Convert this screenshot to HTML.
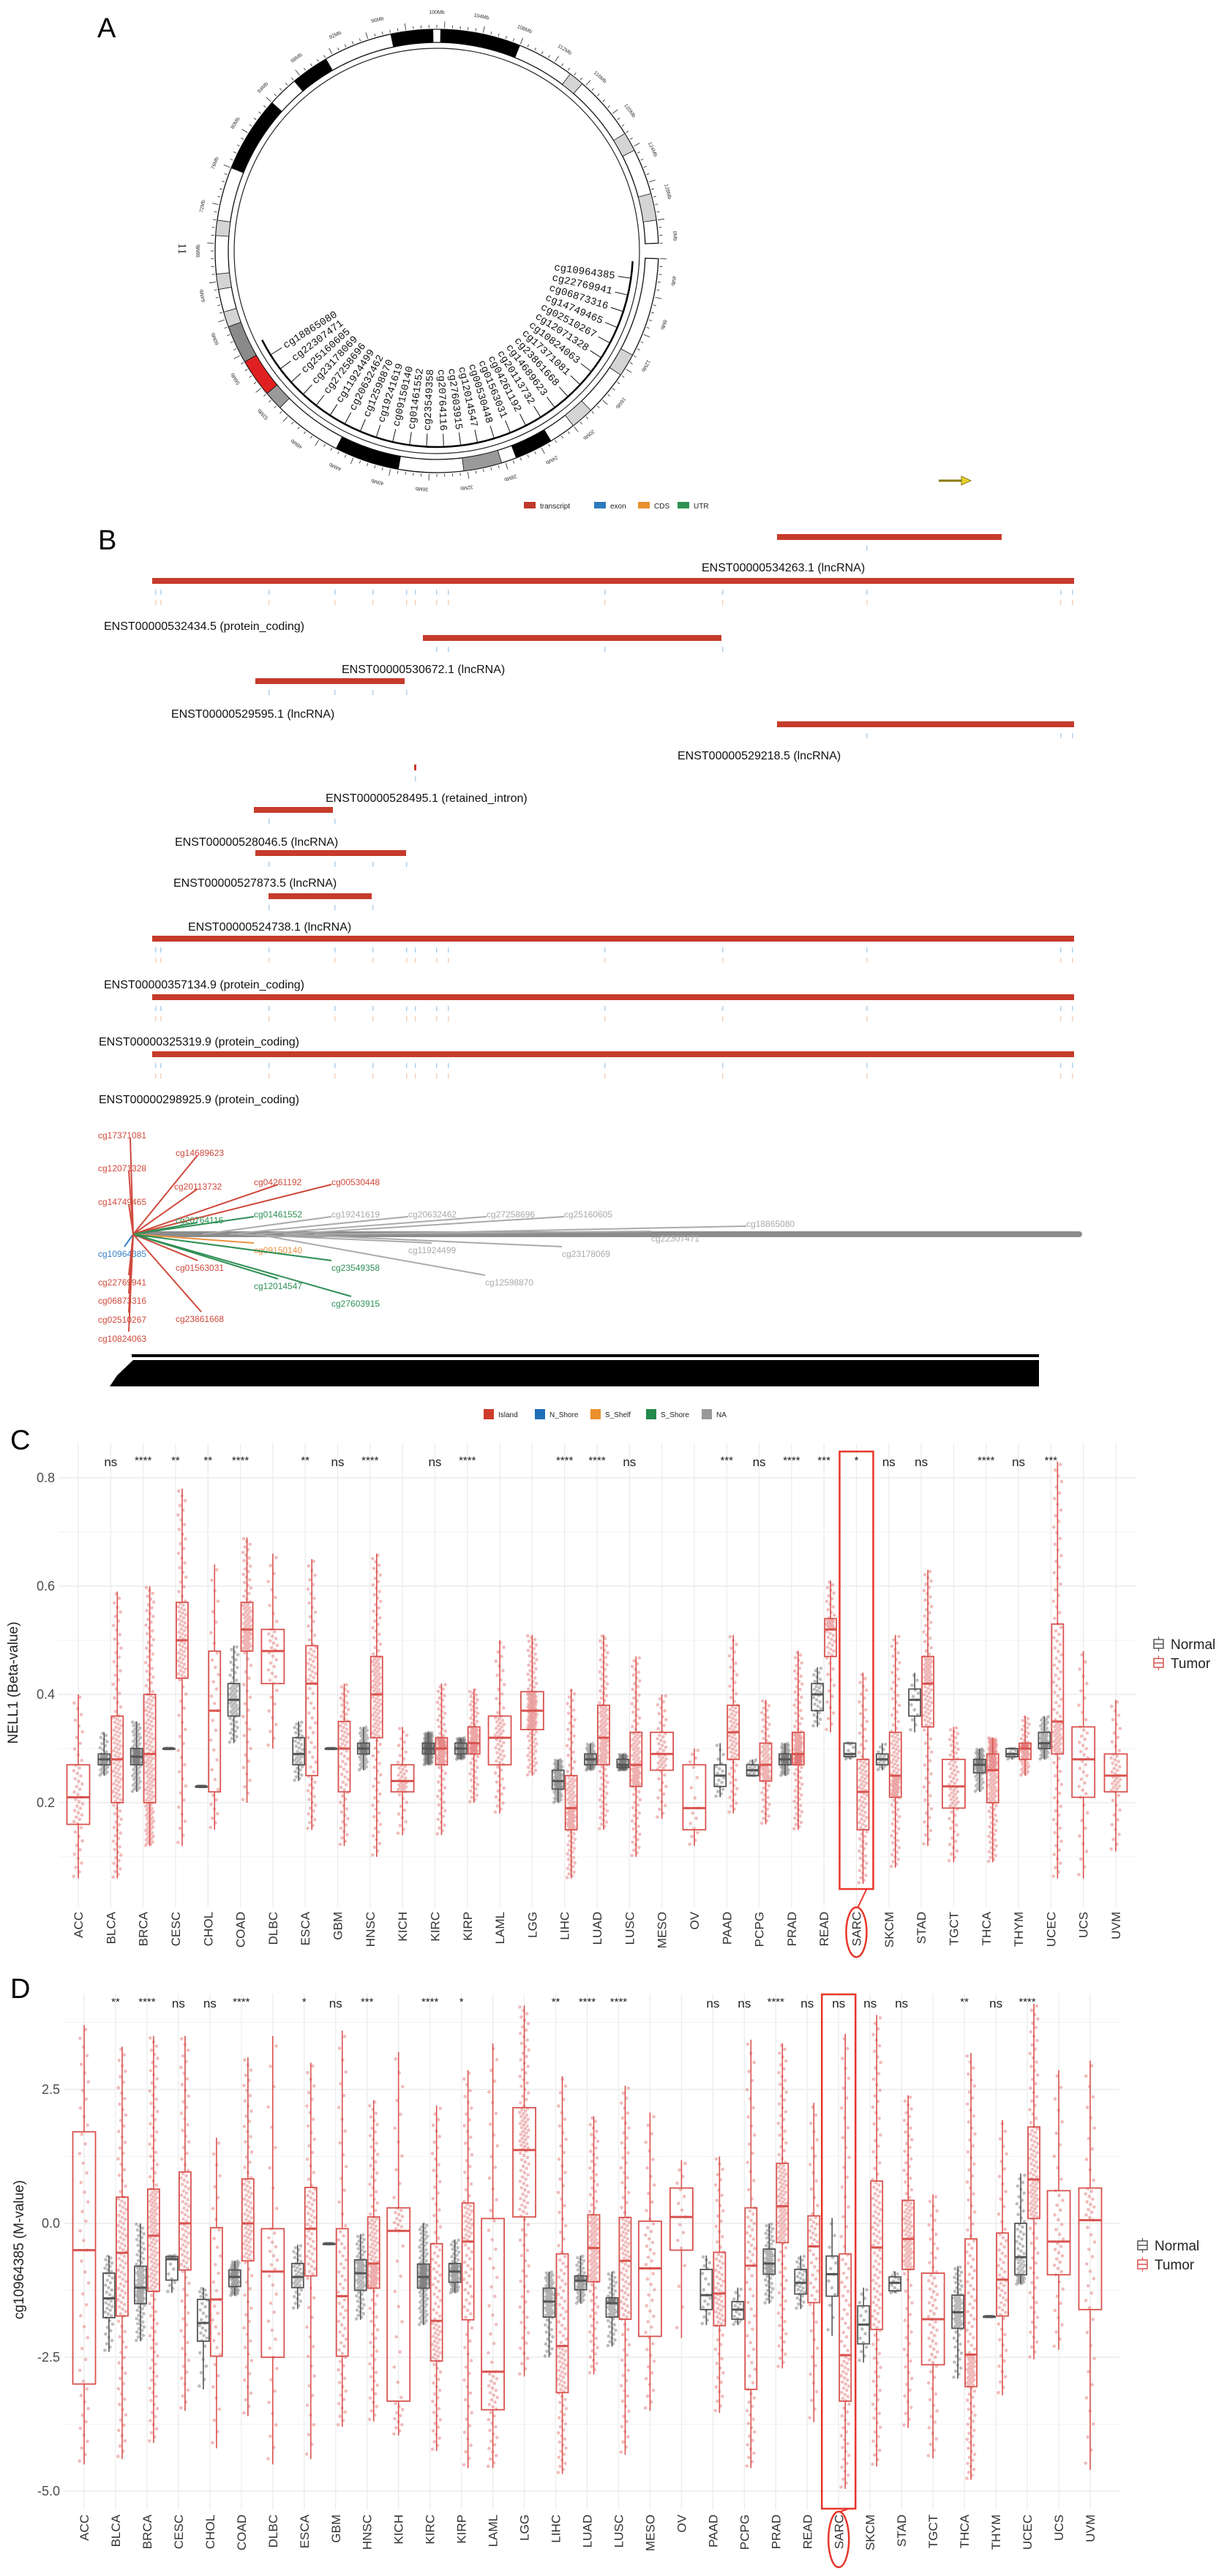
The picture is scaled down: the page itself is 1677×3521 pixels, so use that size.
<!DOCTYPE html>
<html>
<head>
<meta charset="utf-8">
<style>
html,body{margin:0;padding:0;background:#fff;}
svg{display:block;font-family:"Liberation Sans",Arial,sans-serif;}
</style>
</head>
<body>
<svg id="fig" width="1677" height="3521" viewBox="0 0 1677 3521" xmlns="http://www.w3.org/2000/svg">
<rect x="0" y="0" width="1677" height="3521" fill="#fff"/>
<text x="133" y="51" font-size="38">A</text>
<text x="134" y="751" font-size="38">B</text>
<text x="14" y="1981" font-size="38">C</text>
<text x="14" y="2731" font-size="38">D</text>
</svg>
<script>
const NS='http://www.w3.org/2000/svg';
const svg=document.getElementById('fig');
function mk(tag,attrs,parent){const e=document.createElementNS(NS,tag);for(const k in attrs)e.setAttribute(k,attrs[k]);(parent||svg).appendChild(e);return e;}

/* ================= PANEL A : circular ideogram ================= */
const ringSegStart=[-68,-40,-12,1,149,190,37,58,75,118,136,-100,-86,-110,163,225,230,240];
const ringSegEnd  =[-48,-30,-1,22,159,207,41,63,82,124,142,-96,-82,-106,173,230,240,250];
const ringSegColor=['#000','#000','#000','#000','#000','#000','#d4d4d4','#d4d4d4','#d4d4d4','#d4d4d4','#d4d4d4','#d4d4d4','#d4d4d4','#d4d4d4','#9a9a9a','#9a9a9a','#e02020','#8a8a8a'];
const probeNames=['cg10964385','cg22769941','cg06873316','cg14749465','cg02510267','cg12071328','cg10824063','cg17371081','cg23861668','cg14689623','cg20113732','cg04261192','cg01563031','cg00530448','cg12014547','cg27603915','cg20764116','cg23549358','cg01461552','cg09150140','cg19241619','cg12598870','cg20632462','cg11924499','cg27258696','cg23178069','cg25160605','cg22307471','cg18865080'];
const mbLabels=['100Mb','104Mb','108Mb','112Mb','116Mb','120Mb','124Mb','128Mb','0Mb','4Mb','8Mb','12Mb','16Mb','20Mb','24Mb','28Mb','32Mb','36Mb','40Mb','44Mb','48Mb','52Mb','56Mb','60Mb','64Mb','68Mb','72Mb','76Mb','80Mb','84Mb','88Mb','92Mb','96Mb'];
(function(){
  const cx=597,cy=343;
  const g=mk('g',{});
  
  
  const P=(r,t)=>{const a=t*Math.PI/180;return [cx+r*Math.sin(a),cy-r*Math.cos(a)];};
  function sector(r1,r2,a1,a2){const p1=P(r2,a1),p2=P(r2,a2),p3=P(r1,a2),p4=P(r1,a1);const lg=(a2-a1)>180?1:0;
    return `M${p1[0]},${p1[1]} A${r2},${r2} 0 ${lg} 1 ${p2[0]},${p2[1]} L${p3[0]},${p3[1]} A${r1},${r1} 0 ${lg} 0 ${p4[0]},${p4[1]} Z`;}
  const base=mk('path',{d:sector(285,303,92,448),fill:'#fff',stroke:'#111','stroke-width':1.3},g);
  
  
  for(let i=0;i<ringSegStart.length;i++){
    const s=mk('path',{d:sector(285,303,ringSegStart[i],ringSegEnd[i]),fill:ringSegColor[i],stroke:'#111','stroke-width':0.8},g);
    
    
  }
  const ic=mk('circle',{cx:cx,cy:cy,r:277,fill:'none',stroke:'#222','stroke-width':1.2},g);
  
  
  for(let t=92;t<=448;t+=2){
    const maj=((t-92)%10===0);
    const a=P(305,t),b=P(maj?314:309,t);
    const l=mk('line',{x1:a[0],y1:a[1],x2:b[0],y2:b[1],stroke:'#222','stroke-width':0.8},g);
    
    
  }
  mbLabels.forEach((lab,i)=>{
    const t=(i*10.8+0)%360; const q=P(324,t);
    const tx=mk('text',{x:q[0],y:q[1],'font-size':7,fill:'#333','text-anchor':'middle',transform:`rotate(${t} ${q[0]} ${q[1]})`},g);
    
    
    tx.textContent=lab;
  });
  const chr=mk('text',{x:244,y:340,'font-size':16,fill:'#222','text-anchor':'middle',transform:'rotate(90 244 340)','font-family':'Liberation Serif,serif'},g);
  
  
  chr.textContent='11';
  const a1=P(268,93),a2=P(268,243);
  const arc=mk('path',{d:`M${a1[0]},${a1[1]} A268,268 0 0 1 ${a2[0]},${a2[1]}`,fill:'none',stroke:'#000','stroke-width':2.5},g);
  
  
  probeNames.forEach((nm,i)=>{
    const t=98+i*(140/(probeNames.length-1));
    const q=P(250,t),r=P(267,t);
    const ln=mk('polyline',{points:`${q[0]},${q[1]} ${r[0]},${r[1]}`,fill:'none',stroke:'#111','stroke-width':1},g);
    
    
    let rot,anchor;
    if(t<=180){rot=t-90;anchor='end';}else{rot=t-270;anchor='start';}
    const pp=P(246,t);
    const tx=mk('text',{x:pp[0],y:pp[1],'font-size':14,'font-family':'Liberation Mono,monospace',fill:'#111','text-anchor':anchor,'dominant-baseline':'middle',transform:`rotate(${rot} ${pp[0]} ${pp[1]})`},g);
    
    
    tx.textContent=nm;
  });
  const legA=[['transcript','#c0392b'],['exon','#2b7bbf'],['CDS','#e8902e'],['UTR','#2e9152']];
  let lx=716;
  legA.forEach(([n,c])=>{
    const r=mk('rect',{x:lx,y:686,width:16,height:9,fill:c});
    
    
    const t=mk('text',{x:lx+22,y:695,'font-size':10,fill:'#222'});
    
    
    t.textContent=n; lx+=22+n.length*6+14;
  });
  const ar=mk('g',{});
  
  
  mk('line',{x1:1283,y1:657,x2:1320,y2:657,stroke:'#8a7a10','stroke-width':3},ar);
  mk('path',{d:'M1314,651 L1327,657 L1314,663 Z',fill:'#e6d22a',stroke:'#8a7a10','stroke-width':1},ar);
})();

/* ================= PANEL B : transcripts ================= */
const txNames=['ENST00000534263.1 (lncRNA)','ENST00000532434.5 (protein_coding)','ENST00000530672.1 (lncRNA)','ENST00000529595.1 (lncRNA)','ENST00000529218.5 (lncRNA)','ENST00000528495.1 (retained_intron)','ENST00000528046.5 (lncRNA)','ENST00000527873.5 (lncRNA)','ENST00000524738.1 (lncRNA)','ENST00000357134.9 (protein_coding)','ENST00000325319.9 (protein_coding)','ENST00000298925.9 (protein_coding)'];
const txStart=[1062,208,578,349,1062,566,347,349,367,208,208,208];
const txEnd  =[1369,1468,986,553,1468,569,455,555,508,1468,1468,1468];
const txBarY =[734,794,872,931,990,1049,1107,1166,1225,1283,1363,1441];
const txLabX =[959,142,467,234,926,445,239,237,257,142,135,135];
const txLabY =[775,855,914,975,1032,1090,1150,1206,1266,1345,1423,1502];
const exonX=[212,219,367,457,509,555,567,596,612,826,987,1184,1449,1465];
(function(){
  const g=mk('g',{});
  
  
  txNames.forEach((nm,i)=>{
    const b=mk('rect',{x:txStart[i],y:txBarY[i]-4,width:Math.max(2,txEnd[i]-txStart[i]),height:8,fill:'#c63b2b'},g);
    
    
    exonX.forEach(x=>{
      if(x>=txStart[i]-2&&x<=txEnd[i]+2){
        const e=mk('rect',{x:x,y:txBarY[i]+12,width:1.5,height:7,fill:'#7fb0dc',opacity:0.6},g);
        
        
        if(txEnd[i]-txStart[i]>600){
          const c=mk('rect',{x:x,y:txBarY[i]+26,width:1.5,height:7,fill:'#f0b48a',opacity:0.6},g);
          
          
        }
      }
    });
    const t=mk('text',{x:txLabX[i],y:txLabY[i]+6,'font-size':16,fill:'#111'},g);
    
    
    t.textContent=nm;
  });
})();

/* ================= PANEL B : lollipop ================= */
const lolNames=['cg17371081','cg14689623','cg12071328','cg20113732','cg04261192','cg00530448','cg14749465','cg20764116','cg01461552','cg19241619','cg20632462','cg27258696','cg25160605','cg18865080','cg22307471','cg10964385','cg09150140','cg11924499','cg23178069','cg01563031','cg23549358','cg22769941','cg12014547','cg12598870','cg27603915','cg06873316','cg23861668','cg02510267','cg10824063'];
const lolX=[134,240,134,238,347,453,134,240,347,453,558,665,771,1020,890,134,347,558,768,240,453,134,347,663,453,134,240,134,134];
const lolY=[1552,1576,1597,1622,1616,1616,1643,1668,1660,1660,1660,1660,1660,1673,1693,1714,1709,1709,1714,1733,1733,1753,1758,1753,1782,1778,1803,1804,1830];
const lolAnchor=[178,270,176,270,380,453,176,270,347,453,558,665,771,1020,890,170,347,590,768,270,453,176,380,663,480,176,275,176,176];
const lolType=['Island','Island','Island','Island','Island','Island','Island','S_Shore','S_Shore','NA','NA','NA','NA','NA','NA','N_Shore','S_Shelf','NA','NA','Island','S_Shore','Island','S_Shore','NA','S_Shore','Island','Island','Island','Island'];
const typeColor={Island:'#cf4a3c',N_Shore:'#3a80c4',S_Shelf:'#ea9240',S_Shore:'#2f8f55',NA:'#aaaaaa'};
(function(){
  const hx=182,hy=1687;
  const g=mk('g',{});
  
  
  const bar=mk('rect',{x:hx,y:hy-4,width:1479-hx,height:8,rx:4,fill:'#8c8c8c'},g);
  
  
  lolNames.forEach((nm,i)=>{
    const c=typeColor[lolType[i]];
    const above=lolY[i]<hy;
    const ey=above?lolY[i]+3:lolY[i]-10;
    const ln=mk('line',{x1:hx+(lolType[i]==='NA'?(lolAnchor[i]-hx)*0.35:0),y1:hy,x2:lolAnchor[i],y2:ey,stroke:c,'stroke-width':2},g);
    
    
    const t=mk('text',{x:lolX[i],y:lolY[i]+4,'font-size':12,fill:c},g);
    
    
    t.textContent=nm;
  });
  const s1=mk('rect',{x:180,y:1851,width:1240,height:4,fill:'#000'},g);
  
  
  const s2=mk('path',{d:'M182,1859 L1420,1859 L1420,1895 L150,1895 L160,1880 Z',fill:'#000'},g);
  
  
  const leg=[['Island','#cf3b2b'],['N_Shore','#1f6fb8'],['S_Shelf','#ea8f2c'],['S_Shore','#238a4c'],['NA','#999']];
  let lx=661;
  leg.forEach(([n,c])=>{
    const r=mk('rect',{x:lx,y:1926,width:14,height:14,fill:c});
    
    
    const t=mk('text',{x:lx+20,y:1937,'font-size':10,fill:'#222'});
    
    
    t.textContent=n; lx+=20+n.length*6+14;
  });
})();

/* ================= PANELS C & D : boxplots ================= */
const cancers=['ACC','BLCA','BRCA','CESC','CHOL','COAD','DLBC','ESCA','GBM','HNSC','KICH','KIRC','KIRP','LAML','LGG','LIHC','LUAD','LUSC','MESO','OV','PAAD','PCPG','PRAD','READ','SARC','SKCM','STAD','TGCT','THCA','THYM','UCEC','UCS','UVM'];
const tumorN=[80,400,780,300,36,300,48,185,150,520,66,320,275,140,510,377,460,370,87,10,180,180,500,100,260,470,395,150,510,120,430,57,80];
const normalN=[0,19,90,3,9,38,0,16,2,50,0,160,45,0,0,50,32,42,0,0,4,3,50,10,2,3,2,0,50,2,35,0,0];
const cSig=['','ns','****','**','**','****','','**','ns','****','','ns','****','','','****','****','ns','','','***','ns','****','***','*','ns','ns','','****','ns','***','',''];
const cTMed=[.21,.28,.29,.50,.37,.52,.48,.42,.30,.40,.24,.30,.31,.32,.37,.19,.32,.27,.29,.19,.33,.27,.29,.52,.22,.25,.42,.23,.26,.30,.35,.28,.25];
const cTQ1 =[.16,.20,.20,.43,.22,.48,.42,.25,.22,.32,.22,.27,.29,.27,.335,.15,.27,.23,.26,.15,.28,.24,.27,.47,.15,.21,.34,.19,.20,.28,.29,.21,.22];
const cTQ3 =[.27,.36,.40,.57,.48,.57,.52,.49,.35,.47,.27,.32,.34,.36,.405,.25,.38,.33,.33,.27,.38,.31,.33,.54,.28,.33,.47,.28,.29,.31,.53,.34,.29];
const cTLo =[.06,.06,.12,.12,.15,.20,.30,.15,.12,.10,.14,.14,.20,.18,.25,.06,.15,.10,.17,.12,.18,.16,.15,.33,.05,.08,.12,.09,.09,.25,.06,.06,.11];
const cTHi =[.40,.59,.60,.78,.64,.69,.66,.65,.42,.66,.34,.42,.41,.50,.51,.41,.51,.47,.40,.30,.51,.39,.48,.61,.44,.51,.63,.34,.32,.36,.83,.48,.39];
const cNMed=[null,.28,.285,.30,.23,.39,null,.29,.30,.30,null,.30,.30,null,null,.24,.28,.27,null,null,.25,.26,.28,.40,.29,.28,.39,null,.27,.29,.31,null,null];
const cNQ1 =[null,.27,.27,.30,.23,.36,null,.27,.30,.29,null,.29,.29,null,null,.225,.27,.265,null,null,.23,.25,.27,.37,.285,.27,.36,null,.255,.285,.30,null,null];
const cNQ3 =[null,.29,.30,.30,.23,.42,null,.32,.30,.31,null,.31,.31,null,null,.26,.29,.28,null,null,.27,.27,.29,.42,.31,.29,.41,null,.28,.30,.33,null,null];
const cNLo =[null,.25,.22,.30,.23,.31,null,.24,.30,.26,null,.27,.28,null,null,.20,.26,.26,null,null,.21,.25,.25,.34,.28,.26,.33,null,.22,.28,.28,null,null];
const cNHi =[null,.33,.35,.30,.23,.49,null,.35,.30,.34,null,.33,.32,null,null,.28,.31,.29,null,null,.31,.28,.31,.45,.31,.31,.44,null,.30,.30,.36,null,null];
const cTicks=[0.2,0.4,0.6,0.8];
const cTickLabels=['0.2','0.4','0.6','0.8'];
const cMinor=[0.1,0.3,0.5,0.7];
const dSig=['','**','****','ns','ns','****','','*','ns','***','','****','*','','','**','****','****','','','ns','ns','****','ns','ns','ns','ns','','**','ns','****','',''];
const dTMed=[-0.5,-0.55,-0.23,0.0,-1.42,0.0,-0.9,-0.1,-1.36,-0.75,-0.14,-1.82,-0.34,-2.77,1.37,-2.29,-0.46,-0.7,-0.84,0.12,-1.31,-0.79,0.32,-0.43,-2.46,-0.45,-0.29,-1.79,-2.45,-1.05,0.82,-0.34,0.06];
const dTQ1 =[-3.0,-1.73,-1.27,-0.87,-2.48,-0.7,-2.5,-0.98,-2.48,-1.21,-3.32,-2.57,-1.8,-3.48,0.12,-3.16,-1.09,-1.79,-2.11,-0.5,-1.91,-3.1,-0.36,-1.48,-3.32,-1.98,-0.86,-2.64,-3.05,-1.73,0.09,-0.96,-1.61];
const dTQ3 =[1.71,0.49,0.64,0.96,-0.08,0.83,-0.1,0.67,-0.1,0.12,0.29,-0.38,0.38,0.09,2.16,-0.57,0.16,0.11,0.04,0.66,-0.54,0.29,1.12,0.14,-0.57,0.79,0.43,-0.93,-0.29,-0.18,1.8,0.61,0.66];
const dTLo =[-4.5,-4.4,-4.1,-3.5,-4.2,-3.6,-4.5,-4.4,-3.8,-3.7,-3.96,-4.25,-4.57,-4.57,-2.86,-4.68,-2.82,-4.32,-3.5,-2.14,-3.54,-4.57,-2.71,-3.71,-4.96,-4.54,-3.82,-4.39,-4.79,-3.21,-2.54,-2.36,-4.6];
const dTHi =[3.7,3.3,3.5,3.5,1.6,3.1,3.5,3.0,3.6,2.3,3.2,2.2,2.86,3.36,4.07,2.75,2.0,2.57,2.07,1.18,1.25,3.43,3.36,2.25,3.54,3.89,2.39,0.54,3.18,1.93,4.1,2.86,3.04];
const dNMed=[null,-1.4,-1.2,-0.67,-1.86,-1.0,null,-1.0,-0.38,-0.93,null,-1.0,-0.9,null,null,-1.46,-1.07,-1.49,null,null,-1.34,-1.61,-0.75,-1.11,-0.95,-1.89,-1.11,null,-1.66,-1.74,-0.63,null,null];
const dNQ1 =[null,-1.76,-1.5,-1.06,-2.2,-1.18,null,-1.2,-0.38,-1.25,null,-1.21,-1.1,null,null,-1.75,-1.24,-1.75,null,null,-1.61,-1.79,-0.95,-1.32,-1.36,-2.25,-1.26,null,-1.96,-1.74,-0.96,null,null];
const dNQ3 =[null,-0.93,-0.8,-0.62,-1.42,-0.87,null,-0.75,-0.38,-0.68,null,-0.76,-0.75,null,null,-1.21,-0.98,-1.39,null,null,-0.86,-1.46,-0.48,-0.86,-0.61,-1.54,-1.0,null,-1.34,-1.74,0.0,null,null];
const dNLo =[null,-2.4,-2.2,-1.3,-3.1,-1.35,null,-1.6,-0.38,-1.8,null,-1.9,-1.3,null,null,-2.5,-1.5,-2.3,null,null,-1.9,-1.9,-1.5,-1.6,-2.1,-2.6,-1.3,null,-2.9,-1.74,-1.14,null,null];
const dNHi =[null,-0.6,0.0,-0.6,-1.2,-0.7,null,-0.4,-0.38,-0.2,null,0.0,-0.3,null,null,-0.9,-0.6,-0.9,null,null,-0.6,-1.2,0.0,-0.6,0.1,-1.2,-0.9,null,-0.8,-1.74,0.93,null,null];
const dTicks=[-5,-2.5,0,2.5];
const dTickLabels=['-5.0','-2.5','0.0','2.5'];
const dMinor=[-3.75,-1.25,1.25,3.75];

function drawBoxPanel(o){
  const g=mk('g',{});
  
  
  const X=i=>o.x0+i*(o.x1-o.x0)/(cancers.length-1);
  const Y=o.yScale;
  const grid=mk('g',{},g);
  
  
  o.minor.forEach(v=>{mk('line',{x1:o.left,x2:o.right,y1:Y(v),y2:Y(v),stroke:'#f2f2f2','stroke-width':1},grid);});
  o.ticks.forEach(v=>{mk('line',{x1:o.left,x2:o.right,y1:Y(v),y2:Y(v),stroke:'#e6e6e6','stroke-width':1.3},grid);});
  cancers.forEach((c,i)=>{mk('line',{x1:X(i),x2:X(i),y1:o.top,y2:o.bottom,stroke:'#ececec','stroke-width':1.3},grid);});
  o.ticks.forEach((v,k)=>{
    const t=mk('text',{x:o.tickX,y:Y(v)+6,'font-size':18,fill:'#4d4d4d','text-anchor':'end'},g);
    
    
    t.textContent=o.tickLabels[k];
  });
  const yt=mk('text',{x:o.titleX,y:o.titleY,'font-size':19,fill:'#222','text-anchor':'middle',transform:`rotate(-90 ${o.titleX} ${o.titleY})`},g);
  
  
  yt.textContent=o.title;
  function oneBox(cxp,w,med,q1,q3,lo,hi,n,col,dot,kind){
    const bg=mk('g',{},g);
    
    
    const cnt=Math.min(150,Math.round(Math.sqrt(n)*5.5));
    const qs=[[0,lo],[0.25,q1],[0.5,med],[0.75,q3],[1,hi]];
    for(let k=0;k<cnt;k++){
      const p=(k+0.5)/cnt; let v=lo;
      for(let j=0;j<4;j++){if(p>=qs[j][0]&&p<=qs[j+1][0]){const f=(p-qs[j][0])/(qs[j+1][0]-qs[j][0]);v=qs[j][1]+f*(qs[j+1][1]-qs[j][1]);break;}}
      const jx=((k*0.6180339)%1-0.5)*Math.min(w,18)*0.7;
      const d=mk('circle',{cx:cxp+jx,cy:Y(v),r:2.3,fill:dot},bg);
      
      
    }
    mk('line',{x1:cxp,x2:cxp,y1:Y(hi),y2:Y(q3),stroke:col,'stroke-width':1.6},bg);
    mk('line',{x1:cxp,x2:cxp,y1:Y(q1),y2:Y(lo),stroke:col,'stroke-width':1.6},bg);
    mk('rect',{x:cxp-w/2,y:Y(q3),width:w,height:Math.max(1,Y(q1)-Y(q3)),fill:'none',stroke:col,'stroke-width':1.8},bg);
    mk('line',{x1:cxp-w/2,x2:cxp+w/2,y1:Y(med),y2:Y(med),stroke:col,'stroke-width':3},bg);
  }
  cancers.forEach((c,i)=>{
    const x=X(i);
    const hasN=o.nMed[i]!==null;
    if(hasN){
      oneBox(x-9,16,o.nMed[i],o.nQ1[i],o.nQ3[i],o.nLo[i],o.nHi[i],normalN[i]*3,'#555','rgba(90,90,90,0.4)','normal');
      oneBox(x+9,16,o.tMed[i],o.tQ1[i],o.tQ3[i],o.tLo[i],o.tHi[i],tumorN[i],'#d9534f','rgba(215,70,70,0.36)','tumor');
    }else{
      oneBox(x,31,o.tMed[i],o.tQ1[i],o.tQ3[i],o.tLo[i],o.tHi[i],tumorN[i],'#d9534f','rgba(215,70,70,0.36)','tumor');
    }
    const t=mk('text',{x:x+6,y:o.labelY,'font-size':17,fill:'#333','text-anchor':'end',transform:`rotate(-90 ${x+6} ${o.labelY})`},g);
    
    
    t.textContent=c;
    if(o.sig[i]){
      const s=mk('text',{x:x,y:o.sigY+(o.sig[i]==='ns'?0:-3),'font-size':o.sig[i]==='ns'?17:15,fill:'#222','text-anchor':'middle'},g);
      
      
      s.textContent=o.sig[i];
    }
  });
  const si=cancers.indexOf('SARC'); const sx=X(si);
  const hr=mk('rect',{x:sx-23,y:o.hlTop,width:46,height:o.hlBottom-o.hlTop,fill:'none',stroke:'#e8362a','stroke-width':2.5},g);
  
  
  const he=mk('ellipse',{cx:sx,cy:o.elY,rx:14,ry:o.elRy,fill:'none',stroke:'#e8362a','stroke-width':2.5},g);
  
  
  const hl=mk('line',{x1:sx+14,y1:o.hlBottom,x2:sx+2,y2:o.elY-o.elRy,stroke:'#e8362a','stroke-width':2},g);
  
  
  [['Normal','#555',0],['Tumor','#d9534f',26]].forEach(([n,c,dy])=>{
    const lg=mk('g',{},g);
    
    
    const yy=o.legY+dy;
    mk('rect',{x:o.legX,y:yy-6,width:13,height:12,fill:'none',stroke:c,'stroke-width':1.5},lg);
    mk('line',{x1:o.legX,x2:o.legX+13,y1:yy,y2:yy,stroke:c,'stroke-width':1.5},lg);
    mk('line',{x1:o.legX+6.5,x2:o.legX+6.5,y1:yy-10,y2:yy-6,stroke:c,'stroke-width':1.2},lg);
    mk('line',{x1:o.legX+6.5,x2:o.legX+6.5,y1:yy+6,y2:yy+10,stroke:c,'stroke-width':1.2},lg);
    const t=mk('text',{x:o.legX+23,y:yy+7,'font-size':19,fill:'#222'},lg);
    t.textContent=n;
  });
}
drawBoxPanel({name:'beta-value-boxplot',x0:107,x1:1525,left:80,right:1552,top:1973,bottom:2607,
  yScale:v=>2020+(0.8-v)*740,ticks:cTicks,tickLabels:cTickLabels,minor:cMinor,tickX:75,
  title:'NELL1 (Beta-value)',titleX:24,titleY:2300,labelY:2613,sigY:2004,
  tMed:cTMed,tQ1:cTQ1,tQ3:cTQ3,tLo:cTLo,tHi:cTHi,nMed:cNMed,nQ1:cNQ1,nQ3:cNQ3,nLo:cNLo,nHi:cNHi,sig:cSig,
  hlTop:1984,hlBottom:2582,elY:2641,elRy:34,legX:1577,legY:2247});
drawBoxPanel({name:'m-value-boxplot',x0:115,x1:1490,left:88,right:1530,top:2725,bottom:3430,
  yScale:v=>3039-v*73.2,ticks:dTicks,tickLabels:dTickLabels,minor:dMinor,tickX:82,
  title:'cg10964385 (M-value)',titleX:32,titleY:3075,labelY:3437,sigY:2744,
  tMed:dTMed,tQ1:dTQ1,tQ3:dTQ3,tLo:dTLo,tHi:dTHi,nMed:dNMed,nQ1:dNQ1,nQ3:dNQ3,nLo:dNLo,nHi:dNHi,sig:dSig,
  hlTop:2726,hlBottom:3429,elY:3471,elRy:38,legX:1555,legY:3069});
</script>
</body>
</html>
